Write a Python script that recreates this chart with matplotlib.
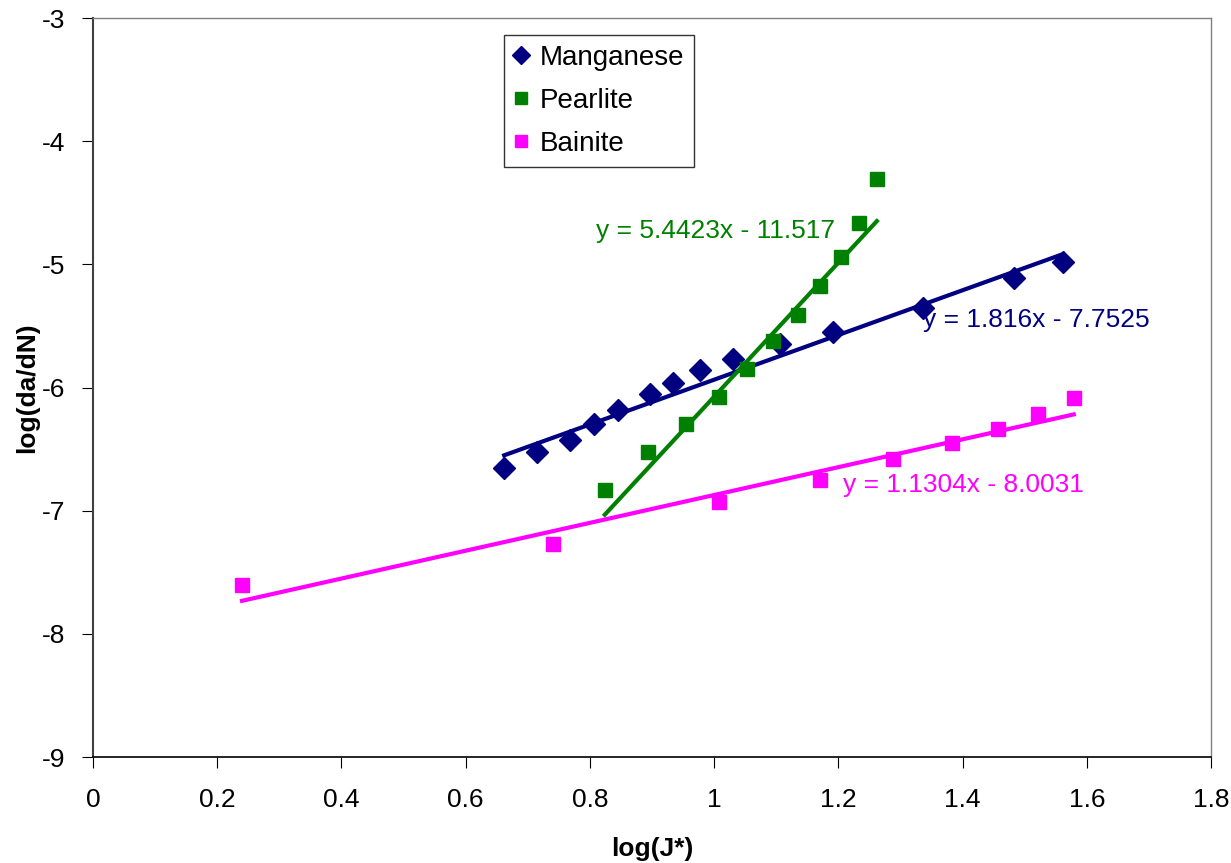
import numpy as np
import matplotlib.pyplot as plt

plt.rcParams['font.family'] = ['Liberation Sans', 'DejaVu Sans']
plt.rcParams['axes.unicode_minus'] = False

# --- Data ---
mn_x = [0.662, 0.715, 0.768, 0.807, 0.845, 0.897, 0.934, 0.977, 1.030, 1.106, 1.191, 1.336, 1.483, 1.562]
mn_y = [-6.653, -6.524, -6.426, -6.296, -6.183, -6.053, -5.963, -5.858, -5.769, -5.647, -5.549, -5.354, -5.111, -4.981]

pe_x = [0.824, 0.894, 0.955, 1.008, 1.053, 1.095, 1.135, 1.171, 1.204, 1.233, 1.262]
pe_y = [-6.832, -6.524, -6.296, -6.077, -5.850, -5.622, -5.411, -5.176, -4.940, -4.664, -4.307]

ba_x = [0.240, 0.741, 1.008, 1.171, 1.288, 1.383, 1.457, 1.522, 1.579]
ba_y = [-7.603, -7.270, -6.930, -6.751, -6.580, -6.451, -6.337, -6.215, -6.085]

# trendline coefficients (slope, intercept) as printed on the chart
mn_fit = (1.816, -7.7525)
pe_fit = (5.4423, -11.517)
ba_fit = (1.1304, -8.0031)

navy = '#000080'
green = '#008000'
magenta = '#FF00FF'


def trend(ax, xs, fit, color):
    xx = np.array([min(xs), max(xs)])
    ax.plot(xx, fit[0] * xx + fit[1], color=color, linewidth=3, zorder=2)


fig = plt.figure(figsize=(12.31, 8.63), dpi=100)
ax = fig.add_axes([0.0755, 0.1228, 0.9083, 0.8563])

ax.plot(mn_x, mn_y, 'D', color=navy, markersize=11, label='Manganese', zorder=3)
ax.plot(pe_x, pe_y, 's', color=green, markersize=10, label='Pearlite', zorder=3)
ax.plot(ba_x, ba_y, 's', color=magenta, markersize=10, label='Bainite', zorder=3)

trend(ax, mn_x, mn_fit, navy)
trend(ax, pe_x, pe_fit, green)
trend(ax, ba_x, ba_fit, magenta)

ax.text(1.003, -4.729, 'y = 5.4423x - 11.517', color=green, fontsize=19, ha='center', va='center')
ax.text(1.518, -5.452, 'y = 1.816x - 7.7525', color=navy, fontsize=19, ha='center', va='center')
ax.text(1.401, -6.792, 'y = 1.1304x - 8.0031', color=magenta, fontsize=19, ha='center', va='center')

ax.set_xlim(0, 1.8)
ax.set_ylim(-9, -3)
ax.set_xticks(np.arange(0, 1.81, 0.2))
ax.set_xticklabels(['0', '0.2', '0.4', '0.6', '0.8', '1', '1.2', '1.4', '1.6', '1.8'])
ax.set_yticks(np.arange(-9, -2.9, 1))
ax.tick_params(direction='out', length=8, labelsize=19)
ax.tick_params(axis='y', pad=12)
ax.tick_params(axis='x', pad=14)

for side in ['top', 'right']:
    ax.spines[side].set_color('#808080')
    ax.spines[side].set_linewidth(1)
ax.spines['left'].set_color('#404040')
ax.spines['left'].set_linewidth(1.5)
ax.spines['bottom'].set_color('black')
ax.spines['bottom'].set_linewidth(1.2)

ax.set_xlabel('log(J*)', fontsize=19, fontweight='bold', labelpad=18)
ax.set_ylabel('log(da/dN)', fontsize=19, fontweight='bold', labelpad=2)

leg = ax.legend(loc='upper left', bbox_to_anchor=(0.3676, 0.977), borderaxespad=0,
                fancybox=False, edgecolor='black', fontsize=20, numpoints=1,
                markerscale=0.8, handlelength=0.5, handletextpad=0.45, labelspacing=0.62,
                borderpad=0.35)
leg.get_frame().set_linewidth(1)

fig.savefig('out.png', dpi=100)
